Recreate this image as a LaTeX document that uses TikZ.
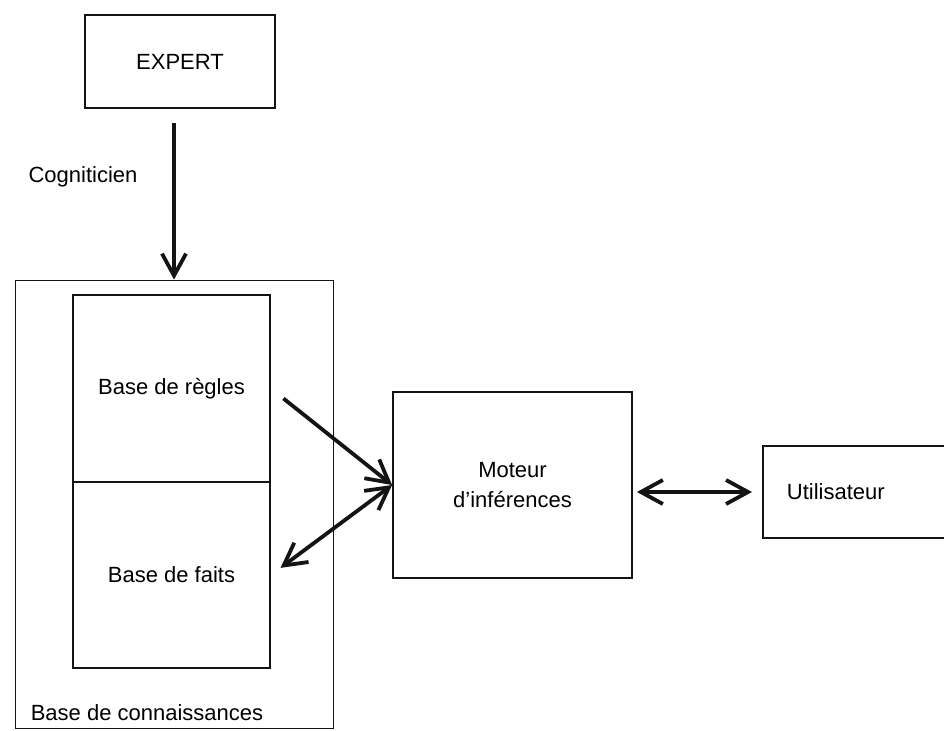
\documentclass[tikz,border=0pt]{standalone}
\usepackage{fontspec}
\setmainfont{Liberation Sans}
\usepackage{xcolor}
\usepackage{tikz}
\usetikzlibrary{arrows.meta,positioning,calc}
\definecolor{ink}{RGB}{20,20,20}

\begin{document}
\begin{tikzpicture}[x=0.5pt,y=-0.5pt,
  box/.style={draw=ink,line width=0.9pt,inner sep=0pt,font=\fontsize{11}{14}\selectfont,align=center},
  flow/.style={draw=ink,line width=1.9pt,-{Straight Barb[length=11pt,width=12pt,line width=1.9pt]}},
  biflow/.style={flow,{Straight Barb[length=11pt,width=12pt,line width=1.9pt]}-{Straight Barb[length=11pt,width=12pt,line width=1.9pt]}}]
\useasboundingbox (0,0) rectangle (944,730);
% boxes
\node[box,minimum width=95pt,minimum height=46.5pt] (expert) at (180,61.5) {EXPERT};
\node[box,line width=0.4pt,minimum width=159pt,minimum height=224pt] (kb) at (174,504) {};
\node[box,minimum width=98.5pt,minimum height=93.5pt] (regles) at (171.5,388.5) {Base de règles};
\node[box,minimum width=98.5pt,minimum height=93pt] (faits) at (171.5,575) {Base de faits};
\node[box,minimum width=119.5pt,minimum height=93pt] (moteur) at (512.5,485) {Moteur\\[1pt]d'inférences};
\node[box,anchor=west,minimum height=46pt,text width=80pt,inner xsep=12pt,align=left] (util) at (762,492) {Utilisateur};
\node[font=\fontsize{11}{14}\selectfont] (kblab) at (147,713) {Base de connaissances};
% connectors
\draw[flow,shorten <=7pt] (kb.north |- expert.south) -- (kb.north)
  node[pos=0.4,left=14pt,font=\fontsize{11}{14}\selectfont] (cogn) {Cogniticien};
\draw[flow,shorten <=8pt] (regles.east) -- (moteur.west);
\draw[biflow,shorten >=6pt] (moteur.west) -- (faits.east);
\draw[biflow,shorten <=2pt,shorten >=5pt] (util.west -| moteur.east) -- (util.west);
\end{tikzpicture}
\end{document}
